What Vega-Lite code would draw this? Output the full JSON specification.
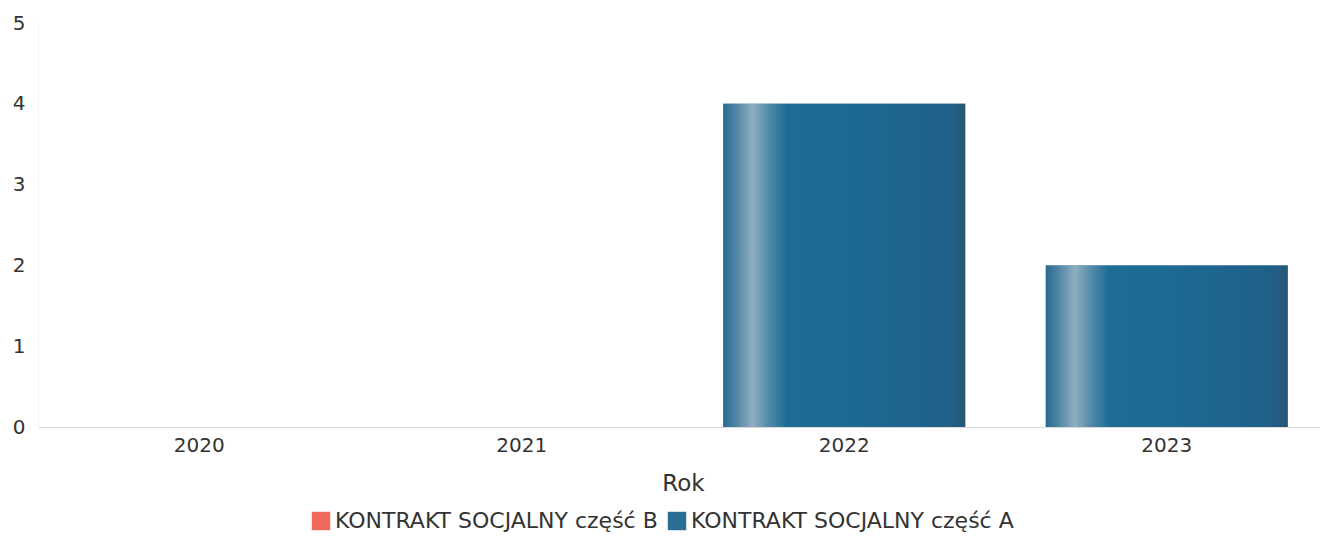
{
  "$schema": "https://vega.github.io/schema/vega-lite/v6.json",
  "width": 1290,
  "height": 404,
  "autosize": "none",
  "padding": {"left": 38, "top": 23, "right": 0, "bottom": 113},
  "background": "white",
  "config": {
    "font": "DejaVu Sans",
    "view": {"stroke": null}
  },
  "data": {
    "values": [
      {"Rok": "2020", "seria": "KONTRAKT SOCJALNY część B", "wartosc": 0},
      {"Rok": "2021", "seria": "KONTRAKT SOCJALNY część B", "wartosc": 0},
      {"Rok": "2022", "seria": "KONTRAKT SOCJALNY część B", "wartosc": 0},
      {"Rok": "2023", "seria": "KONTRAKT SOCJALNY część B", "wartosc": 0},
      {"Rok": "2020", "seria": "KONTRAKT SOCJALNY część A", "wartosc": 0},
      {"Rok": "2021", "seria": "KONTRAKT SOCJALNY część A", "wartosc": 0},
      {"Rok": "2022", "seria": "KONTRAKT SOCJALNY część A", "wartosc": 4},
      {"Rok": "2023", "seria": "KONTRAKT SOCJALNY część A", "wartosc": 2}
    ]
  },
  "encoding": {
    "x": {
      "field": "Rok", "type": "nominal", "title": "Rok",
      "scale": {"paddingInner": 0.25, "paddingOuter": 0.125},
      "axis": {
        "labelAngle": 0, "labelFontSize": 20, "labelColor": "#333333",
        "labelPadding": 8, "ticks": false, "domainColor": "#d9d9d9",
        "titleFontSize": 23, "titleFontWeight": "normal", "titleColor": "#333333",
        "titlePadding": 17
      }
    },
    "y": {
      "field": "wartosc", "type": "quantitative", "title": null,
      "scale": {"domain": [0, 5]},
      "axis": {
        "values": [0, 1, 2, 3, 4, 5], "grid": false, "ticks": false,
        "labelOverlap": false,
        "domain": true, "domainColor": "#f2f2f2",
        "labelFontSize": 20, "labelColor": "#333333", "labelPadding": 13
      }
    }
  },
  "layer": [
    {
      "mark": {"type": "bar"},
      "encoding": {
        "color": {
          "field": "seria", "type": "nominal",
          "sort": ["KONTRAKT SOCJALNY część B", "KONTRAKT SOCJALNY część A"],
          "scale": {"domain": ["KONTRAKT SOCJALNY część B", "KONTRAKT SOCJALNY część A"], "range": ["#ee6a5c", "#2a6d95"]},
          "legend": {
            "orient": "none", "legendX": 272, "legendY": 487,
            "direction": "horizontal", "title": null,
            "symbolType": "square", "symbolSize": 340, "symbolStrokeWidth": 0,
            "labelFontSize": 22, "labelColor": "#333333", "labelOffset": 3,
            "labelLimit": 0,
            "columnPadding": 8
          }
        }
      }
    },
    {
      "transform": [{"filter": "datum.wartosc > 0"}],
      "mark": {
        "type": "bar",
        "fill": {
          "gradient": "linear", "x1": 0, "y1": 0, "x2": 1, "y2": 0,
          "stops": [
            {"offset": 0, "color": "#2a6a90"},
            {"offset": 0.05, "color": "#4d84a4"},
            {"offset": 0.12, "color": "#8eaec0"},
            {"offset": 0.19, "color": "#5089a9"},
            {"offset": 0.26, "color": "#1e6d97"},
            {"offset": 0.6, "color": "#1c6891"},
            {"offset": 0.94, "color": "#1f6087"},
            {"offset": 1, "color": "#2b5674"}
          ]
        }
      }
    }
  ]
}
